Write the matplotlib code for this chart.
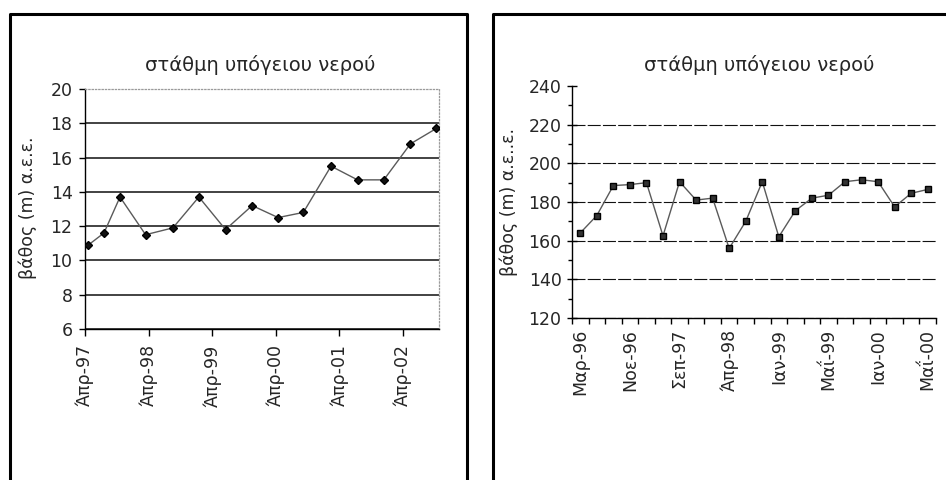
import matplotlib

matplotlib.use("Agg")
import matplotlib.dates as mdates
import matplotlib.pyplot as plt
import numpy as np
import pandas as pd
from matplotlib.lines import Line2D

plt.rcParams["font.family"] = ["DejaVu Sans"]

TITLE = "στάθμη υπόγειου νερού"
YLABEL_LEFT = "βάθος (m) α.ε.ε."
YLABEL_RIGHT = "βάθος (m) α.ε..ε."

# left well: dated depth measurements
left_dates = [
    "1997-04-20", "1997-07-19", "1997-10-19", "1998-03-15", "1998-08-19",
    "1999-01-15", "1999-06-17", "1999-11-17", "2000-04-14", "2000-09-06",
    "2001-02-12", "2001-07-14", "2001-12-12", "2002-05-14", "2002-10-10",
]
left_depth = [10.9, 11.6, 13.7, 11.5, 11.9, 13.7, 11.8, 13.2, 12.5, 12.8,
              15.5, 14.7, 14.7, 16.8, 17.7]
left_tick_dates = ["1997-04-01", "1998-04-01", "1999-04-01",
                   "2000-04-01", "2001-04-01", "2002-04-01"]
left_tick_labels = ["Άπρ-97", "Άπρ-98", "Άπρ-99", "Άπρ-00", "Άπρ-01", "Άπρ-02"]

# right well: measurements on a category axis, every third one labelled
right_depth = [164, 173, 188.5, 189, 190, 162.5, 190.5, 181, 182, 156, 170,
               190.5, 162, 175.5, 182, 183.5, 190.5, 191.5, 190.5, 177.5,
               184.5, 186.5]
right_tick_labels = ["Μαρ-96", "Νοε-96", "Σεπ-97", "Άπρ-98",
                     "Ιαν-99", "Μαΐ-99", "Ιαν-00", "Μαΐ-00"]
LABEL_STEP = 3

W, H = 946, 480
INK = "#262626"
LINE = "#5a5a5a"
FS = 12.5
FS_TITLE = 14


def px_rect(left, top, right, bottom):
    return [left / W, 1 - bottom / H, (right - left) / W, (bottom - top) / H]


fig = plt.figure(figsize=(W / 100, H / 100), dpi=100, facecolor="white")

# ---- left panel -------------------------------------------------------
ax1 = fig.add_axes(px_rect(85, 89, 439, 329))
x1 = mdates.date2num(pd.to_datetime(left_dates))
ax1.plot(x1, left_depth, color=LINE, lw=1.0, marker="D", ms=4.3,
         mfc="#111111", mec="#000000", zorder=3)
ax1.set_ylim(6, 20)
ax1.set_yticks(np.arange(6, 21, 2))
ax1.set_xlim(mdates.date2num(pd.Timestamp("1997-04-01")),
             mdates.date2num(pd.Timestamp("2002-10-25")))
ax1.set_xticks(mdates.date2num(pd.to_datetime(left_tick_dates)))
ax1.set_xticklabels(left_tick_labels, rotation=90)
ax1.grid(axis="y", color="#222222", lw=1.2)
ax1.yaxis.get_gridlines()[-1].set_visible(False)
for side in ("top", "right"):
    ax1.spines[side].set_color("#9a9a9a")
    ax1.spines[side].set_linestyle(":")
    ax1.spines[side].set_linewidth(0.9)
for side in ("left", "bottom"):
    ax1.spines[side].set_color("#000000")
    ax1.spines[side].set_linewidth(1.0)
ax1.tick_params(axis="y", direction="out", length=4, width=1, pad=5,
                labelsize=FS, labelcolor=INK)
ax1.tick_params(axis="x", direction="out", length=5, width=1, pad=6,
                labelsize=FS, labelcolor=INK)

fig.text(260 / W, 1 - 65 / H, TITLE, ha="center", va="center",
         fontsize=FS_TITLE, color=INK)
fig.text(28 / W, 1 - 208 / H, YLABEL_LEFT, ha="center", va="center",
         rotation=90, fontsize=FS, color=INK)

# ---- right panel ------------------------------------------------------
ax2 = fig.add_axes(px_rect(572, 86, 936, 318))
idx = np.arange(len(right_depth))
ax2.plot(idx, right_depth, color=LINE, lw=1.0, marker="s", ms=4.8,
         mfc="#333333", mec="#000000", zorder=3)
ax2.set_xlim(-0.5, len(right_depth) - 0.5)
ax2.set_xticks(np.arange(len(right_depth) + 1) - 0.5)
ax2.set_xticklabels([])
ax2.set_xticks(idx[::LABEL_STEP], minor=True)
ax2.set_xticklabels(right_tick_labels, minor=True, rotation=90)
ax2.set_ylim(120, 240)
ax2.set_yticks(np.arange(120, 241, 20))
ax2.set_yticks(np.arange(130, 240, 20), minor=True)
ax2.grid(axis="y", which="major", color="#111111", lw=0.8,
         linestyle=(0, (11.7, 2.0)))
ax2.yaxis.get_gridlines()[-1].set_visible(False)
for side in ("top", "right"):
    ax2.spines[side].set_visible(False)
for side in ("left", "bottom"):
    ax2.spines[side].set_color("#000000")
    ax2.spines[side].set_linewidth(1.0)
ax2.tick_params(axis="y", which="major", direction="inout", length=7,
                width=1, pad=4, labelsize=FS, labelcolor=INK)
ax2.tick_params(axis="y", which="minor", direction="out", length=3, width=1)
ax2.tick_params(axis="x", which="major", direction="out", length=4, width=1)
ax2.tick_params(axis="x", which="minor", length=0, pad=8,
                labelsize=FS, labelcolor=INK)

fig.text(759 / W, 1 - 65 / H, TITLE, ha="center", va="center",
         fontsize=FS_TITLE, color=INK)
fig.text(509 / W, 1 - 202 / H, YLABEL_RIGHT, ha="center", va="center",
         rotation=90, fontsize=FS, color=INK)

# ---- heavy chart frames ------------------------------------------------
top = 1 - 14 / H
fig.add_artist(Line2D([10 / W, 10 / W, 467 / W, 467 / W], [0, top, top, 0],
                      transform=fig.transFigure, color="black", lw=2.2))
fig.add_artist(Line2D([493 / W, 493 / W, 1.0], [0, top, top],
                      transform=fig.transFigure, color="black", lw=2.2))

fig.savefig("out.png", dpi=100, facecolor="white")
